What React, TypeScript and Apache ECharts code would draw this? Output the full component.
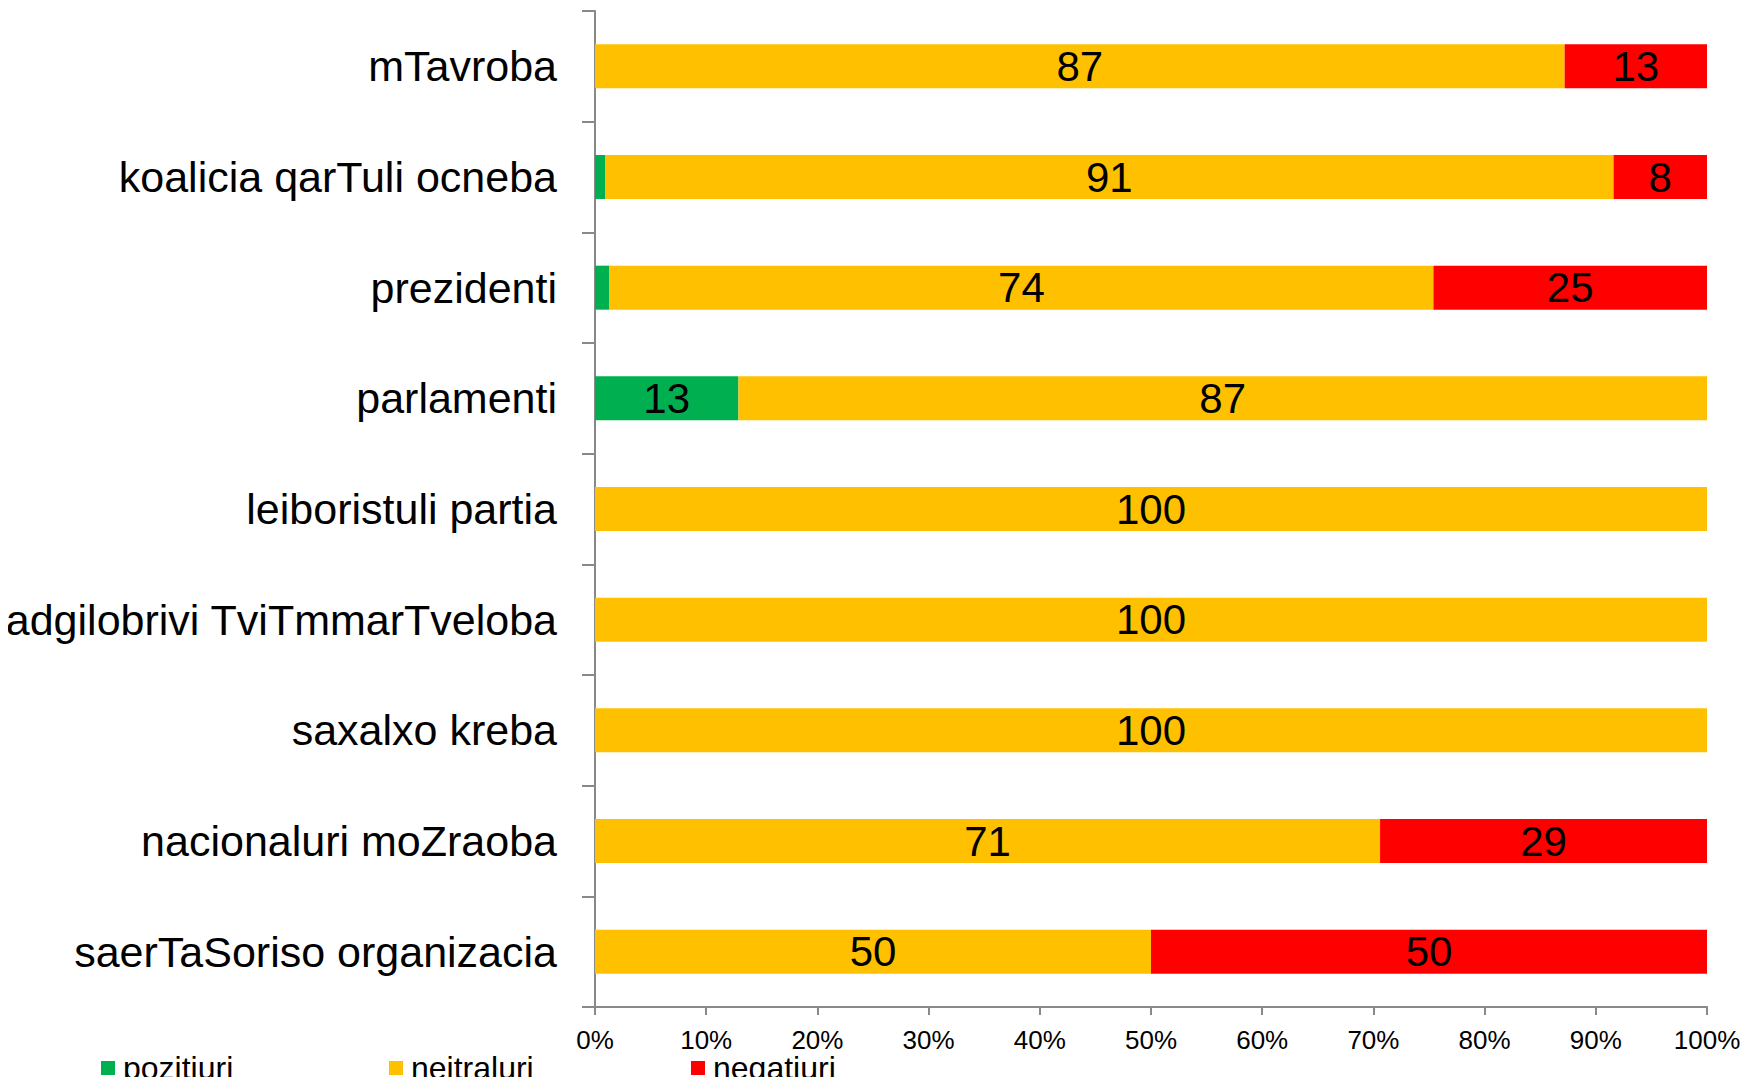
import React, { useEffect, useRef } from "react";
import * as echarts from "echarts";

const categories = [
  "mTavroba",
  "koalicia qarTuli ocneba",
  "prezidenti",
  "parlamenti",
  "leiboristuli partia",
  "adgilobrivi TviTmmarTveloba",
  "saxalxo kreba",
  "nacionaluri moZraoba",
  "saerTaSoriso organizacia",
];
const positive = [0, 0.9, 1.3, 12.9, 0, 0, 0, 0, 0];
const neutral = [87.2, 90.7, 74.1, 87.1, 100, 100, 100, 70.6, 50];
const negative = [12.8, 8.4, 24.6, 0, 0, 0, 0, 29.4, 50];
const seriesNames = ["pozitiuri", "neitraluri", "negatiuri"];
const colors = ["#00B050", "#FFC000", "#FF0000"];
const xTicks = { min: 0, max: 100, interval: 10 };

const narrow = "'Liberation Sans Narrow', 'Arial Narrow', 'Liberation Sans', sans-serif";
const sans = "'Liberation Sans', Arial, sans-serif";

export default function App() {
  const ref = useRef<HTMLDivElement>(null);
  useEffect(() => {
    if (!ref.current) return;
    const chart = echarts.init(ref.current, undefined, { renderer: "svg" });
    const values = [positive, neutral, negative];
    const legendLefts = [101, 389, 691];
    chart.setOption({
      animation: false,
      backgroundColor: "#ffffff",
      grid: { left: 595, right: 50, top: 11, bottom: 78, containLabel: false },
      legend: seriesNames.map((n, i) => ({
        data: [n],
        left: legendLefts[i],
        top: 1052,
        icon: "rect",
        itemWidth: 14,
        itemHeight: 14,
        itemGap: 0,
        padding: 0,
        selectedMode: false,
        textStyle: { fontFamily: narrow, fontSize: 32, color: "#000", padding: [0, 0, 0, 3] },
      })),
      xAxis: {
        type: "value",
        min: xTicks.min,
        max: xTicks.max,
        interval: xTicks.interval,
        axisLine: { show: true, lineStyle: { color: "#898989", width: 2 } },
        axisTick: { show: true, length: 8, lineStyle: { color: "#898989", width: 2 } },
        splitLine: { show: false },
        axisLabel: {
          formatter: "{value}%",
          fontFamily: narrow,
          fontSize: 26,
          color: "#000",
          margin: 20,
        },
      },
      yAxis: {
        type: "category",
        data: categories,
        inverse: true,
        axisLine: { show: true, lineStyle: { color: "#898989", width: 2 } },
        axisTick: { show: true, length: 13, lineStyle: { color: "#898989", width: 2 } },
        axisLabel: { fontFamily: sans, fontSize: 43, color: "#000", margin: 38 },
      },
      series: seriesNames.map((n, i) => ({
        name: n,
        type: "bar",
        stack: "total",
        barWidth: 44,
        data: values[i],
        itemStyle: { color: colors[i] },
        label: {
          show: true,
          position: "inside",
          fontFamily: sans,
          fontSize: 42,
          color: "#000",
          formatter: (p: any) => (p.value >= 5 ? String(Math.round(p.value)) : ""),
        },
      })),
    });
    return () => chart.dispose();
  }, []);
  return <div ref={ref} style={{ width: 1757, height: 1085, margin: -8 }} />;
}
